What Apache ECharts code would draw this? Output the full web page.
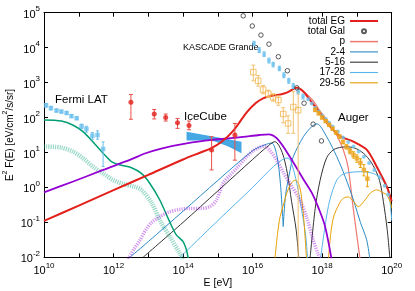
<!DOCTYPE html>
<html><head><meta charset="utf-8">
<script src="https://cdn.jsdelivr.net/npm/echarts@6/dist/echarts.min.js"></script>
<style>html,body{margin:0;padding:0;background:#fff}#c{width:415px;height:291px}</style>
</head><body><div id="c"></div>
<script>
// All pairs are [log10(E / eV), log10(E^2 F(E) / (eV cm^-2 s^-1 sr^-1))]
const xTickExps = [10, 12, 14, 16, 18, 20];
const yTickExps = [-2, -1, 0, 1, 2, 3, 4, 5];

const totalEG = [[10,-0.96],[11,-0.52],[12,-0.08],[13,0.36],[14,0.80],[14.5,1.0],[14.8,1.12],[15.1,1.30],[15.44,1.62],[15.83,2.15],[16.1,2.42],[16.3,2.55],[16.6,2.63],[16.8,2.66],[17.0,2.72],[17.27,2.85],[17.45,2.75],[17.65,2.50],[17.9,2.18],[18.13,1.86],[18.5,1.48],[18.9,1.31],[19.28,1.08],[19.57,0.59],[19.86,0.02],[20.0,-0.4]];
const totalGal = [[15.73,4.91],[15.99,4.62],[16.24,4.36],[16.47,4.10],[16.74,3.74],[17.0,3.34],[17.27,2.85],[17.48,2.41],[17.74,1.81],[17.98,1.33]];
const compP = [[17.3,2.84],[17.5,2.72],[17.74,2.48],[17.93,2.20],[18.22,1.83],[18.4,1.53],[18.61,1.07],[18.75,0.55],[18.9,-0.65],[19.09,-2.05]];
const comp2to4Low = [[12.47,-2.0],[13.0,-1.55],[14.0,-0.68],[15.0,0.2],[16.0,1.05],[16.35,1.22],[16.55,1.27],[16.7,0.9],[16.8,0.1],[16.88,-1.12]];
const comp2to4High = [[16.88,-1.12],[16.95,-0.2],[17.07,0.45],[17.17,0.88],[17.46,1.45],[17.7,1.74],[17.85,1.82],[18.13,1.45],[18.42,0.88],[18.66,0.31],[18.9,-0.36],[19.1,-1.0],[19.28,-1.5],[19.37,-2.05]];
const comp5to16Low = [[12.85,-2.0],[14.0,-1.0],[15.0,-0.1],[16.0,0.8],[16.4,1.15],[16.64,1.31],[16.85,1.0],[17.0,0.4],[17.12,-0.4],[17.25,-1.2],[17.33,-2.05]];
const comp5to16High = [[17.65,-2.05],[17.8,-0.6],[17.94,0.2],[18.13,0.85],[18.33,1.08],[18.55,1.15],[18.75,1.16],[19.0,1.1],[19.25,0.92],[19.47,0.62],[19.65,0.2],[19.76,-0.4],[19.87,-1.2],[19.95,-2.05]];
const comp17to28Low = [[13.91,-2.0],[15.0,-0.95],[16.0,0.0],[16.6,0.6],[16.9,0.82],[17.02,0.84],[17.12,0.69],[17.27,0.12],[17.41,-0.65],[17.53,-1.41],[17.58,-2.05]];
const comp17to28High = [[17.95,-2.05],[18.1,-1.0],[18.22,-0.36],[18.42,0.21],[18.6,0.38],[18.8,0.43],[19.09,0.45],[19.47,0.40],[19.7,0.25],[19.86,0.0],[19.95,-0.4],[20.0,-0.95]];
const comp29to56Low = [[16.64,-2.05],[16.72,-1.3],[16.79,-0.84],[16.9,-0.45],[16.98,-0.17],[17.1,0.1],[17.22,0.21],[17.3,0.15],[17.38,-0.1],[17.43,-0.5],[17.48,-1.0],[17.52,-1.6],[17.55,-2.05]];
const comp29to56High = [[18.18,-2.05],[18.25,-1.3],[18.33,-0.84],[18.5,-0.45],[18.61,-0.31],[18.75,-0.27],[18.9,-0.4],[19.04,-0.55],[19.2,-0.4],[19.4,-0.15],[19.57,-0.07],[19.75,-0.15],[19.86,-0.22],[19.97,-0.45],[20.0,-0.6]];
const galGreen = [[10.0,1.93],[10.5,1.90],[10.84,1.78],[11.13,1.59],[11.41,1.30],[11.70,0.98],[11.94,0.74],[12.2,0.64],[12.5,0.57],[12.8,0.40],[13.04,0.12],[13.33,-0.36],[13.6,-0.95],[13.8,-1.35],[14.0,-1.55],[14.1,-1.8],[14.15,-2.05]];
const galGreenPts = [[10.0,1.17],[10.5,1.14],[10.84,1.02],[11.13,0.83],[11.41,0.59],[11.70,0.40],[11.99,0.21],[12.28,0.10],[12.6,0.02],[12.8,-0.07],[13.1,-0.45],[13.33,-0.94],[13.62,-1.41],[13.9,-1.88],[14.0,-2.05]];
const egPurple = [[10.0,-0.14],[10.84,0.17],[11.7,0.50],[12.5,0.80],[12.9,0.97],[13.4,1.12],[14.1,1.26],[14.84,1.36],[15.6,1.43],[16.2,1.50],[16.45,1.52],[16.7,1.40],[17.07,0.88],[17.45,0.25],[17.7,-0.15],[17.9,-0.6],[18.08,-1.1],[18.27,-2.05]];
const egPurplePts = [[12.42,-2.05],[12.6,-1.75],[12.76,-1.51],[12.95,-1.18],[13.1,-1.0],[13.33,-0.84],[13.6,-0.70],[13.9,-0.63],[14.2,-0.60],[14.5,-0.60],[14.77,-0.55],[14.96,-0.36],[15.15,0.12],[15.35,0.35],[15.54,0.55],[15.83,0.88],[16.02,1.05],[16.21,1.15],[16.35,1.18],[16.5,1.05],[16.69,0.78],[16.9,0.40],[17.07,0.12],[17.36,-0.36],[17.55,-0.84],[17.74,-1.5],[17.88,-1.9],[17.95,-2.05]];
// IceCube band edges
const iceUpper = [[14.1,1.59],[14.5,1.52],[14.9,1.45],[15.3,1.38],[15.68,1.31]];
const iceLower = [[14.1,1.34],[14.5,1.34],[14.9,1.32],[15.3,1.17],[15.68,0.98]];
// data points: [log10 E, log10 value, log10 low, log10 high]
const fermiLAT = [[10.06,2.35,2.30,2.40],[10.20,2.27,2.22,2.32],[10.36,2.20,2.16,2.24],[10.50,2.17,2.13,2.21],[10.65,2.13,2.09,2.17],[10.79,2.04,2.00,2.08],[10.94,1.98,1.94,2.02],[11.08,1.75,1.68,1.81],[11.22,1.67,1.58,1.75],[11.39,1.48,1.38,1.57],[11.54,1.50,1.38,1.62],[11.70,1.10,0.60,1.30]];
const redPoints = [[12.50,2.44,1.95,2.66],[13.17,2.10,1.96,2.23],[13.50,2.00,1.90,2.10],[13.84,1.85,1.69,1.97],[14.17,1.77,1.65,1.90],[14.82,1.07,0.50,1.45],[15.49,1.50,0.78,1.83]];
const kascade = [[16.04,4.12,4.05,4.18],[16.19,3.93,3.86,4.00],[16.33,3.81,3.75,3.88],[16.47,3.63,3.56,3.70],[16.59,3.52,3.45,3.58],[16.77,3.40,3.34,3.47],[16.90,3.21,3.14,3.28],[17.04,3.05,2.98,3.12],[17.17,2.90,2.83,2.97],[17.31,2.74,2.67,2.81],[17.45,2.60,2.53,2.67]];
const orangeOpen = [[16.02,3.30,3.05,3.50],[16.16,3.05,2.90,3.20],[16.30,2.80,2.68,2.92],[16.45,2.68,2.58,2.78],[16.59,2.58,2.47,2.68],[16.74,2.50,2.35,2.62],[16.88,2.10,1.85,2.28],[17.02,1.83,1.55,2.05],[17.17,2.30,1.55,2.74],[17.31,2.21,-2.0,2.74]];
const augerOrange = [[17.80,2.22,2.17,2.27],[17.90,2.12,2.08,2.16],[18.00,2.00,1.96,2.04],[18.10,1.90,1.86,1.94],[18.20,1.79,1.75,1.83],[18.30,1.68,1.64,1.72],[18.40,1.57,1.53,1.61],[18.50,1.45,1.41,1.50],[18.60,1.30,1.25,1.35],[18.70,1.16,1.10,1.22],[18.80,1.04,0.96,1.11],[18.90,0.93,0.84,1.02],[19.00,0.83,0.72,0.93],[19.10,0.70,0.57,0.82],[19.20,0.50,0.33,0.65],[19.30,0.25,0.02,0.45]];
const augerBlue = [[17.60,2.52],[17.70,2.40],[17.80,2.28],[17.90,2.17],[18.00,2.06],[18.10,1.96],[18.20,1.85],[18.30,1.74],[18.45,1.60],[18.60,1.43],[18.75,1.30],[18.90,1.17],[19.05,1.03],[19.20,0.88],[19.35,0.70],[19.50,0.50],[19.65,0.30],[19.80,0.05],[19.90,-0.2]];

const FONT = '"Liberation Sans", Arial, Helvetica, sans-serif';
const P = v => Math.pow(10, v);
const toXY = arr => arr.map(p => [P(p[0]), P(p[1])]);

function line(name, arr, color, width, extra) {
  return Object.assign({
    type: 'line', name: name, data: toXY(arr), color: color, showSymbol: false, symbol: 'none',
    smooth: 0.3, clip: true, silent: true, animation: false,
    lineStyle: { color: color, width: width }, itemStyle: { color: color }
  }, extra || {});
}
function errBars(arr, color, cap, z) {
  return {
    type: 'custom', silent: true, animation: false, clip: true, z: z,
    data: arr.map(d => [P(d[0]), P(d[1]), P(d[2]), P(d[3])]),
    encode: { x: 0, y: 1 },
    renderItem: function (params, api) {
      const x = api.value(0);
      const a = api.coord([x, api.value(2)]);
      const b = api.coord([x, api.value(3)]);
      const st = { stroke: color, lineWidth: 1 };
      return { type: 'group', children: [
        { type: 'line', shape: { x1: a[0], y1: a[1], x2: b[0], y2: b[1] }, style: st },
        { type: 'line', shape: { x1: a[0] - cap, y1: a[1], x2: a[0] + cap, y2: a[1] }, style: st },
        { type: 'line', shape: { x1: b[0] - cap, y1: b[1], x2: b[0] + cap, y2: b[1] }, style: st }
      ]};
    }
  };
}
function pts(name, arr, symbol, size, itemStyle, z) {
  return { type: 'scatter', name: name, silent: true, animation: false, z: z,
    data: arr.map(d => [P(d[0]), P(d[1])]), symbol: symbol, symbolSize: size, itemStyle: itemStyle };
}

const C = { eg: '#e3201b', p: '#f07a72', c24: '#2a8bc6', c516: '#333333', c1728: '#56b4e9', c2956: '#e69f00', green: '#009e73', purple: '#9400d3', lb: '#56b4e9' };

const series = [
  line('p', compP, C.p, 1.2),
  line('2-4', comp2to4Low, C.c24, 1),
  line('2-4', comp2to4High, C.c24, 1),
  line('5-16', comp5to16Low, C.c516, 1),
  line('5-16', comp5to16High, C.c516, 1),
  line('17-28', comp17to28Low, C.c1728, 1),
  line('17-28', comp17to28High, C.c1728, 1),
  line('29-56', comp29to56Low, C.c2956, 1),
  line('29-56', comp29to56High, C.c2956, 1),
  line('galGreenPts', galGreenPts, 'rgba(0,158,115,0.4)', 4.5, { lineStyle: { color: 'rgba(0,158,115,0.4)', width: 4.5, type: [1.2, 1] } }),
  line('galGreen', galGreen, C.green, 1.5),
  line('egPurplePts', egPurplePts, 'rgba(148,0,211,0.4)', 3.5, { lineStyle: { color: 'rgba(148,0,211,0.42)', width: 3.5, type: [1.2, 1.2] } }),
  {
    type: 'custom', name: 'IceCube', silent: true, animation: false, clip: true,
    data: [[P(iceUpper[0][0]), P(iceUpper[0][1])]], encode: { x: 0, y: 1 },
    renderItem: function (params, api) {
      const up = iceUpper.map(p => api.coord([P(p[0]), P(p[1])]));
      const lo = iceLower.slice().reverse().map(p => api.coord([P(p[0]), P(p[1])]));
      return { type: 'polygon', shape: { points: up.concat(lo) }, style: { fill: '#46a8e2' } };
    }
  },
  line('egPurple', egPurple, C.purple, 1.8),
  line('total EG', totalEG, C.eg, 2),
  errBars(fermiLAT, '#6cc0ee', 1.5, 5),
  pts('Fermi LAT', fermiLAT, 'rect', 4.5, { color: '#6cc0ee' }, 6),
  errBars(redPoints, '#e8504a', 2, 5),
  pts('redPts', redPoints, 'circle', 5, { color: '#e3201b' }, 6),
  errBars(kascade, '#6cc0ee', 1.5, 5),
  pts('KASCADE Grande', kascade, 'rect', 3.5, { color: '#6cc0ee' }, 6),
  errBars(orangeOpen, '#f2c070', 2, 5),
  pts('orangeOpen', orangeOpen, 'rect', 5.5, { color: 'rgba(255,255,255,0)', borderColor: '#f0b448', borderWidth: 1 }, 6),
  pts('augerBlue', augerBlue, 'circle', 4, { color: '#6cc0ee' }, 6),
  errBars(augerOrange, '#e6a000', 1.5, 7),
  pts('Auger', augerOrange, 'rect', 4.5, { color: '#eba520' }, 8),
  pts('total Gal', totalGal, 'circle', 4.5, { color: 'rgba(255,255,255,0)', borderColor: '#333', borderWidth: 1 }, 9)
];

function thinIcon(t) { return 'path://M0,0H28V' + t + 'H0Z'; }

const tickLabel = v => {
  const e = Math.round(Math.log10(v));
  return '{b|10}{s|' + e + '}';
};
const rich = { b: { fontSize: 11, fontFamily: FONT, color: '#000', lineHeight: 15, verticalAlign: 'bottom' },
               s: { fontSize: 8, fontFamily: FONT, color: '#000', lineHeight: 9, verticalAlign: 'top' } };

const axisCommon = {
  type: 'log', logBase: 10, interval: 1,
  axisLine: { show: true, lineStyle: { color: '#000', width: 1 } },
  axisTick: { show: true, inside: true, length: 4, lineStyle: { color: '#000' } },
  splitLine: { show: false }, minorTick: { show: false }
};

const option = {
  animation: false,
  grid: { left: 44, right: 23.3, top: 12.7, bottom: 33.7, outerBoundsMode: 'none', containLabel: false },
  xAxis: [
    Object.assign({}, axisCommon, { min: P(10), max: P(20), position: 'bottom',
      name: 'E [eV]', nameLocation: 'middle', nameGap: 20, nameMoveOverlap: false,
      nameTextStyle: { fontSize: 10.5, fontFamily: FONT, color: '#000' },
      axisLabel: { margin: 4, formatter: v => { const e = Math.round(Math.log10(v)); return xTickExps.indexOf(e) >= 0 ? tickLabel(v) : ''; }, rich: rich } }),
    Object.assign({}, axisCommon, { min: P(10), max: P(20), position: 'top', axisLabel: { show: false } })
  ],
  yAxis: [
    Object.assign({}, axisCommon, { min: P(-2), max: P(5), position: 'left',
      name: '{n|E}{s|2}{n| F(E) [eV/cm}{s|2}{n|/s/sr]}', nameLocation: 'middle', nameGap: 29, nameRotate: 90, nameMoveOverlap: false,
      nameTextStyle: { rich: { n: { fontSize: 10, fontFamily: FONT, color: '#000', lineHeight: 13, verticalAlign: 'bottom' },
                               s: { fontSize: 7, fontFamily: FONT, color: '#000', lineHeight: 8, verticalAlign: 'top' } } },
      axisLabel: { margin: 4, formatter: v => { const e = Math.round(Math.log10(v)); return yTickExps.indexOf(e) >= 0 ? tickLabel(v) : ''; }, rich: rich } }),
    Object.assign({}, axisCommon, { min: P(-2), max: P(5), position: 'right', axisLabel: { show: false } })
  ],
  legend: {
    orient: 'vertical', align: 'right', right: 37, top: 16, padding: 0, itemGap: 0.3,
    itemWidth: 28, itemHeight: 4, selectedMode: false,
    textStyle: { fontSize: 10, fontFamily: FONT, color: '#000' },
    data: [
      { name: 'total EG', icon: thinIcon(2) },
      { name: 'total Gal', icon: 'circle' },
      { name: 'p', icon: thinIcon(1.5) },
      { name: '2-4', icon: thinIcon(1.1) },
      { name: '5-16', icon: thinIcon(1.1) },
      { name: '17-28', icon: thinIcon(1.1) },
      { name: '29-56', icon: thinIcon(1.1) }
    ]
  },
  graphic: [
    { type: 'text', left: 55, top: 94, style: { text: 'Fermi LAT', font: '11.5px ' + FONT, fill: '#000' } },
    { type: 'text', left: 184, top: 111, style: { text: 'IceCube', font: '11.5px ' + FONT, fill: '#000' } },
    { type: 'text', left: 183, top: 43, style: { text: 'KASCADE Grande', font: '9px ' + FONT, fill: '#000' } },
    { type: 'text', left: 338, top: 112, style: { text: 'Auger', font: '11.5px ' + FONT, fill: '#000' } }
  ],
  series: series
};

const chart = echarts.init(document.getElementById('c'), null, { renderer: 'canvas' });
chart.setOption(option);
</script></body></html>
